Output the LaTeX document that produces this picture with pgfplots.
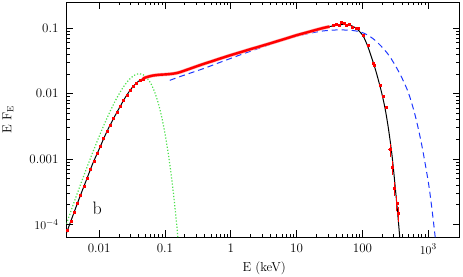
\documentclass[border=0pt]{standalone}
\usepackage{pgfplots}
\pgfplotsset{compat=1.18}
\definecolor{bbgreen}{rgb}{0.3,0.88,0.3}
\definecolor{cpblue}{rgb}{0.12,0.22,1}
\begin{document}
\begin{tikzpicture}
\begin{axis}[
  at={(0pt,0pt)}, anchor=south west,
  scale only axis, width=393pt, height=235pt,
  xmode=log, ymode=log,
  xmin=0.0032, xmax=2980, ymin=6.4e-5, ymax=0.253,
  xtick={0.01,0.1,1,10,100,1000},
  xticklabels={0.01,0.1,1,10,100,$10^3$},
  ytick={1e-4,0.001,0.01,0.1},
  yticklabels={$10^{-4}$,0.001,0.01,0.1},
  tick align=inside,
  major tick length=7pt, minor tick length=3.5pt,
  tick style={black, line width=0.8pt},
  axis line style={line width=0.9pt},
  tick label style={font=\fontsize{13}{15}\selectfont},
  xticklabel style={yshift=-3.5pt},
  yticklabel style={xshift=-4.5pt},
  xlabel={E (keV)}, ylabel={E F$_{\mathrm{E}}$},
  label style={font=\fontsize{13}{15}\selectfont},
  xlabel style={at={(axis description cs:0.503,-0.132)}, anchor=center},
  ylabel style={at={(axis description cs:-0.149,0.5)}, anchor=center},
]
% model total (black)
\addplot[black, line width=1pt, smooth] coordinates {
(0.0032,7.41e-5)(0.00398,1.34e-4)(0.00501,2.51e-4)(0.00631,4.57e-4)(0.00794,8.32e-4)
(0.01,1.41e-3)(0.0126,2.40e-3)(0.0158,3.80e-3)(0.02,5.89e-3)(0.0251,8.81e-3)
(0.0316,0.0123)(0.0398,0.0155)(0.0501,0.0176)(0.0631,0.0188)(0.0794,0.0194)
(0.1,0.0197)(0.126,0.0201)(0.158,0.0209)(0.2,0.0226)(0.251,0.0245)(0.316,0.0266)
(0.398,0.0288)(0.501,0.0310)(0.631,0.0335)(0.794,0.0361)(1,0.0389)(1.585,0.0447)
(2.512,0.0513)(3.981,0.0589)(6.31,0.0679)(10,0.0785)(15.85,0.0891)(25.12,0.101)
(31.62,0.1064)(39.81,0.1109)(50.12,0.1148)(63.1,0.1122)(79.4,0.1012)(100,0.0794)
(112.2,0.0631)(125.9,0.0468)(141.3,0.0331)(158.5,0.0229)(177.8,0.0151)(199.5,9.55e-3)
(223.9,5.50e-3)(251.2,2.69e-3)(281.8,1.12e-3)(316.2,3.55e-4)(354.8,1.0e-4)(398.1,2.51e-5)
};
% comptonisation (blue dashed)
\addplot[cpblue, line width=1pt, dash pattern=on 6pt off 4pt, smooth] coordinates {
(0.1186,0.0160)(0.158,0.0178)(0.251,0.0209)(0.398,0.0245)(0.631,0.0292)(1,0.0347)
(1.585,0.0412)(2.512,0.0484)(3.981,0.0569)(6.31,0.0661)(10,0.0759)(15.85,0.0841)
(25.12,0.0912)(39.81,0.0944)(63.1,0.0938)(79.4,0.0912)(100,0.0861)(125.9,0.0767)
(158.5,0.0646)(199.5,0.0513)(251.2,0.0389)(316.2,0.0269)(398.1,0.0174)(501.2,0.0102)
(631,4.68e-3)(794,1.66e-3)(1000,4.47e-4)(1122,1.91e-4)(1259,7.08e-5)(1349,3.55e-5)
};
% blackbody (green dotted)
\addplot[bbgreen, line width=1.2pt, dash pattern=on 1.2pt off 1.9pt, smooth] coordinates {
(0.0032,1.02e-4)(0.004,1.94e-4)(0.005,3.60e-4)(0.006,5.91e-4)(0.007,8.90e-4)
(0.008,1.259e-3)(0.01,2.205e-3)(0.012,3.41e-3)(0.015,5.59e-3)(0.018,8.08e-3)
(0.022,0.0115)(0.026,0.01466)(0.03,0.01722)(0.035,0.01934)(0.04,0.02017)
(0.045,0.01987)(0.05,0.01868)(0.06,0.01481)(0.07,0.01053)(0.08,6.90e-3)
(0.09,4.24e-3)(0.1,2.49e-3)(0.11,1.40e-3)(0.12,7.63e-4)(0.13,4.04e-4)
(0.14,2.09e-4)(0.15,1.06e-4)(0.16,5.27e-5)
};
% data: dense band
\addplot[red!35, line width=3.4pt, smooth] coordinates {
(0.0468,0.01692)(0.0501,0.0176)(0.0631,0.0188)(0.0794,0.0194)(0.1,0.0197)(0.126,0.0201)
(0.158,0.0209)(0.2,0.0226)(0.251,0.0245)(0.316,0.0266)(0.398,0.0288)(0.501,0.0310)
(0.631,0.0335)(0.794,0.0361)(1,0.0389)(1.259,0.0417)(1.585,0.0447)(1.995,0.0480)
(2.512,0.0513)(3.162,0.0550)(3.981,0.0589)(5.012,0.0633)(6.31,0.0679)(7.943,0.0730)
(10,0.0785)(12.59,0.0836)(15.85,0.0891)(19.95,0.0950)(25.12,0.101)(31.62,0.1064)
};
\addplot[red, line width=2.4pt, smooth] coordinates {
(0.0468,0.01692)(0.0501,0.0176)(0.0631,0.0188)(0.0794,0.0194)(0.1,0.0197)(0.126,0.0201)
(0.158,0.0209)(0.2,0.0226)(0.251,0.0245)(0.316,0.0266)(0.398,0.0288)(0.501,0.0310)
(0.631,0.0335)(0.794,0.0361)(1,0.0389)(1.259,0.0417)(1.585,0.0447)(1.995,0.0480)
(2.512,0.0513)(3.162,0.0550)(3.981,0.0589)(5.012,0.0633)(6.31,0.0679)(7.943,0.0730)
(10,0.0785)(12.59,0.0836)(15.85,0.0891)(19.95,0.0950)(25.12,0.101)(31.62,0.1064)
};
% data: low-energy points
\addplot[red, only marks, mark=square*, mark size=1pt] coordinates {
(0.00331,8.15e-5)(0.00372,1.11e-4)(0.00417,1.52e-4)(0.00468,2.09e-4)(0.00525,2.83e-4)
(0.00589,3.82e-4)(0.00661,5.15e-4)(0.00741,6.95e-4)(0.00832,9.25e-4)(0.00933,1.21e-3)
(0.01047,1.57e-3)(0.01175,2.05e-3)(0.01318,2.63e-3)(0.01479,3.31e-3)(0.0166,4.15e-3)
(0.0186,5.16e-3)(0.0209,6.38e-3)(0.02344,7.81e-3)(0.0263,9.42e-3)(0.0295,0.01113)
(0.0331,0.01288)(0.0372,0.01445)(0.0417,0.01589)(0.0468,0.01692)
};
% data: peak points
\addplot[red, only marks, mark=square*, mark size=1pt] coordinates {
(35.5,0.111)(39.8,0.116)(44.7,0.113)(47.9,0.125)(52.5,0.119)(57.5,0.112)(63.1,0.115)
(70.8,0.104)(79.4,0.100)(85.1,0.099)(102.3,0.0782)(121.6,0.055)(144.5,0.0288)
(149.6,0.027)(183.2,0.0135)(205.6,9.3e-3)(225.9,6.3e-3)
};
% data: high-energy points with error bars
\addplot[red, only marks, mark=square*, mark size=1pt,
  error bars/.cd, x dir=both, x explicit, y dir=both, y explicit,
  error bar style={red, line width=0.8pt}, error mark=none] coordinates {
(263,1.39e-3) +- (17,3.0e-4)
(283.1,7.41e-4) +- (12,1.8e-4)
(309,3.55e-4) +- (14,8.5e-5)
(332.7,2.14e-4) +- (12,5.5e-5)
(346.7,1.48e-4) +- (12,3.8e-5)
};
\node[font=\fontsize{18}{20}\selectfont] at (axis description cs:0.078,0.121) {b};
\end{axis}
\pgfresetboundingbox
\path[use as bounding box] (-66.5pt,-39pt) rectangle (396.5pt,237pt);
\end{tikzpicture}
\end{document}
